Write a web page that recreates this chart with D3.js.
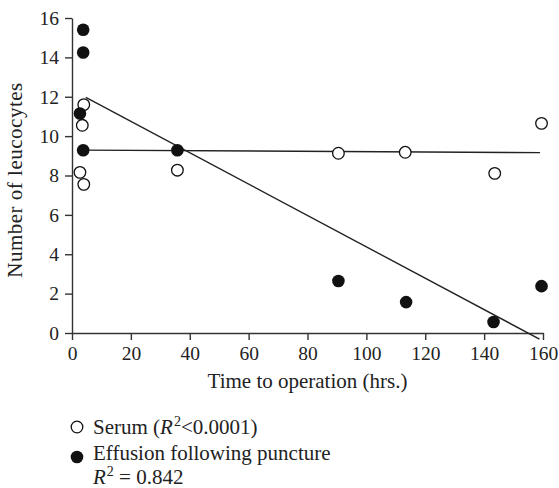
<!DOCTYPE html>
<html>
<head>
<meta charset="utf-8">
<script src="https://cdn.jsdelivr.net/npm/d3@7"></script>
<style>
  body { margin: 0; background: #fff; }
  svg { display: block; }
  .axis path, .axis line { stroke: #333; stroke-width: 1.4; }
</style>
</head>
<body>
<svg id="chart" width="559" height="488"></svg>
<script>
// Serum (open circles)
const serumTime = [4.0, 3.5, 2.7, 4.0, 35.8, 90.5, 113.2, 143.6, 159.5];
const serumCount = [11.6, 10.55, 8.16, 7.55, 8.27, 9.13, 9.18, 8.11, 10.65];

// Effusion following puncture (filled circles)
const effusionTime = [3.8, 3.8, 2.7, 3.8, 35.8, 90.5, 113.5, 143.2, 159.5];
const effusionCount = [15.4, 14.25, 11.15, 9.28, 9.28, 2.64, 1.57, 0.56, 2.38];

// fitted lines, endpoints in data units
const serumFitTime = [3.8, 159];
const serumFitCount = [9.29, 9.16];
const effusionFitTime = [4.7, 158.8];
const effusionFitCount = [11.97, -0.31];

const xTicks = [0, 20, 40, 60, 80, 100, 120, 140, 160];
const yTicks = [0, 2, 4, 6, 8, 10, 12, 14, 16];

const serif = '"Liberation Serif", "Times New Roman", serif';
const margin = { left: 72, top: 18, right: 16, bottom: 155 };
const width = 559, height = 488;

const svg = d3.select('#chart').attr('font-family', serif);

const x = d3.scaleLinear().domain([0, 160]).range([margin.left, width - margin.right]);
const y = d3.scaleLinear().domain([0, 16]).range([height - margin.bottom, margin.top]);

// Axes
const xAxis = svg.append('g')
    .attr('class', 'axis')
    .attr('transform', `translate(0, ${y(0)})`)
    .call(d3.axisBottom(x).tickValues(xTicks).tickSize(7).tickSizeOuter(0).tickPadding(6));

const yAxis = svg.append('g')
    .attr('class', 'axis')
    .attr('transform', `translate(${x(0)}, 0)`)
    .call(d3.axisLeft(y).tickValues(yTicks).tickSize(7).tickSizeOuter(0).tickPadding(6));

[xAxis, yAxis].forEach(g => {
    g.attr('font-family', serif).attr('font-size', 19.5);
    g.selectAll('text').attr('fill', '#222');
});

// Axis titles
svg.append('text')
    .attr('x', (x(0) + x(160)) / 2)
    .attr('y', 388)
    .attr('text-anchor', 'middle')
    .attr('font-size', 21)
    .attr('fill', '#222')
    .text('Time to operation (hrs.)');

svg.append('text')
    .attr('transform', `translate(22, 180) rotate(-90)`)
    .attr('text-anchor', 'middle')
    .attr('font-size', 21)
    .style('letter-spacing', '0.5px')
    .attr('fill', '#222')
    .text('Number of leucocytes');

// Regression lines
const line = d3.line().x(d => x(d[0])).y(d => y(d[1]));

svg.append('path')
    .datum(d3.zip(serumFitTime, serumFitCount))
    .attr('d', line)
    .attr('fill', 'none')
    .attr('stroke', '#222')
    .attr('stroke-width', 1.4);

svg.append('path')
    .datum(d3.zip(effusionFitTime, effusionFitCount))
    .attr('d', line)
    .attr('fill', 'none')
    .attr('stroke', '#222')
    .attr('stroke-width', 1.4);

// Points
svg.append('g').selectAll('circle')
    .data(d3.zip(serumTime, serumCount))
    .enter()
    .append('circle')
    .attr('cx', d => x(d[0]))
    .attr('cy', d => y(d[1]))
    .attr('r', 5.8)
    .attr('fill', '#fff')
    .attr('stroke', '#111')
    .attr('stroke-width', 1.3);

svg.append('g').selectAll('circle')
    .data(d3.zip(effusionTime, effusionCount))
    .enter()
    .append('circle')
    .attr('cx', d => x(d[0]))
    .attr('cy', d => y(d[1]))
    .attr('r', 6.3)
    .attr('fill', '#111');

// Legend
const legend = svg.append('g').attr('font-size', 21).attr('fill', '#222');

legend.append('circle')
    .attr('cx', 77).attr('cy', 427).attr('r', 5.8)
    .attr('fill', '#fff').attr('stroke', '#111').attr('stroke-width', 1.3);

const t1 = legend.append('text').attr('x', 93).attr('y', 434);
t1.append('tspan').text('Serum (');
t1.append('tspan').style('font-style', 'italic').text('R');
t1.append('tspan').attr('dy', -8).attr('dx', 1).attr('font-size', 14).text('2');
t1.append('tspan').attr('dy', 8).text('<0.0001)');

legend.append('circle')
    .attr('cx', 77).attr('cy', 457).attr('r', 6.3)
    .attr('fill', '#111');

legend.append('text').attr('x', 93).attr('y', 460).text('Effusion following puncture');

const t3 = legend.append('text').attr('x', 93).attr('y', 484);
t3.append('tspan').style('font-style', 'italic').text('R');
t3.append('tspan').attr('dy', -8).attr('dx', 1).attr('font-size', 14).text('2');
t3.append('tspan').attr('dy', 8).text(' = 0.842');
</script>
</body>
</html>
